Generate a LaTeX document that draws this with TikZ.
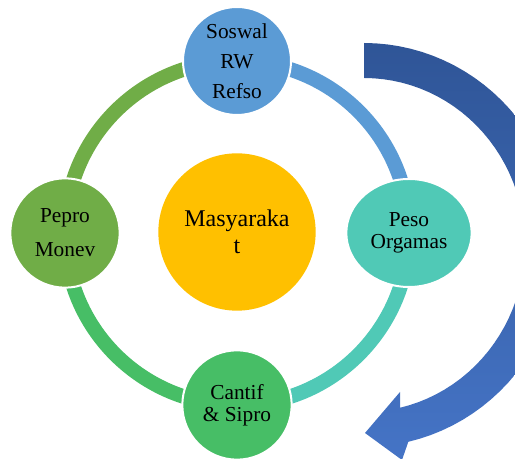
\documentclass[tikz,border=0pt]{standalone}
\usepackage{fontspec}
\setmainfont{Liberation Serif}
\usetikzlibrary{backgrounds,shapes.geometric}
\definecolor{sosblue}{HTML}{5B9BD5}
\definecolor{pesoteal}{HTML}{50C9B6}
\definecolor{cantgreen}{HTML}{47BE66}
\definecolor{peprogreen}{HTML}{70AD47}
\definecolor{masyellow}{HTML}{FFC000}
\definecolor{arrowtop}{HTML}{2F5597}
\definecolor{arrowbot}{HTML}{4574C6}

\begin{document}
\begin{tikzpicture}[x=0.75pt, y=0.75pt,
    bubble/.style={circle, draw=white, line width=1.5pt, inner sep=0pt,
      minimum size=82pt, align=center, text=black,
      font=\fontsize{16}{22.5}\selectfont},
    ringseg/.style={line width=11pt}]
  \def\R{172}
  \useasboundingbox (0,0) rectangle (515,459);
  \clip (0,0) rectangle (515,459);

  \shade[top color=arrowtop, bottom color=arrowbot]
    plot[domain=90:-77, samples=50, variable=\t] ({364+197*cos(\t)}, {214+202*sin(\t)})
    -- (402,-1) -- (365,26) -- (400,67)
    -- plot[domain=-77:90, samples=50, variable=\t] ({364+161*cos(\t)}, {214+167*sin(\t)})
    -- cycle;

  \node[bubble, fill=sosblue, minimum size=81pt] (sos) at (237,398) {Soswal\\RW\\Refso};
  \node[bubble, ellipse, fill=pesoteal, minimum width=94pt, minimum height=81pt,
    font=\fontsize{16}{16.5}\selectfont] (peso) at (409,226) {Peso\\Orgamas};
  \node[bubble, fill=cantgreen, font=\fontsize{16}{16.5}\selectfont] (cantif) at (237,54) {Cantif\\\& Sipro};
  \node[bubble, fill=peprogreen, font=\fontsize{16}{25.5}\selectfont] (pepro) at (65,226) {Pepro\\Monev};
  \node[bubble, fill=masyellow, draw=none, minimum size=118pt,
    font=\fontsize{18}{20}\selectfont] (masy) at (237,227) {Masyaraka\\t};

  \begin{scope}[on background layer]
    \foreach \n/\a/\c in {sos/90/sosblue, peso/0/pesoteal, cantif/-90/cantgreen, pepro/180/peprogreen}
      \draw[ringseg, \c] (\n.center) arc[start angle=\a, end angle=\a-90, radius=\R];
  \end{scope}
\end{tikzpicture}
\end{document}
